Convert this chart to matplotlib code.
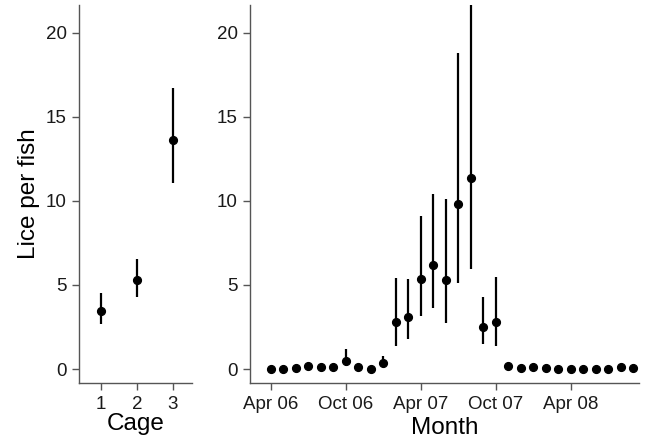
import numpy as np
import matplotlib.pyplot as plt

plt.rcParams['font.family'] = ['Liberation Sans', 'DejaVu Sans']

# cage means with error bar limits
cage = [1, 2, 3]
cage_mean = [3.48, 5.29, 13.6]
cage_lo = [2.67, 4.28, 11.05]
cage_hi = [4.51, 6.53, 16.73]

# monthly means, Apr 06 .. Sep 08
month_labels = ['Apr 06', 'Oct 06', 'Apr 07', 'Oct 07', 'Apr 08']
month_mean = [0.0, 0.0, 0.05, 0.2, 0.1, 0.15, 0.5, 0.1, 0.03, 0.38,
              2.77, 3.09, 5.37, 6.18, 5.27, 9.82, 11.35, 2.53, 2.77, 0.18,
              0.06, 0.1, 0.08, 0.0, 0.0, 0.0, 0.0, 0.0, 0.15, 0.04]
month_lo = [0.0, 0.0, 0.05, 0.2, 0.1, 0.15, 0.2, 0.1, 0.03, 0.3,
            1.39, 1.78, 3.17, 3.64, 2.75, 5.13, 5.96, 1.5, 1.39, 0.18,
            0.06, 0.1, 0.08, 0.0, 0.0, 0.0, 0.0, 0.0, 0.15, 0.04]
month_hi = [0.0, 0.0, 0.05, 0.2, 0.1, 0.15, 1.2, 0.1, 0.03, 0.8,
            5.4, 5.35, 9.09, 10.38, 10.12, 18.77, 22.5, 4.3, 5.5, 0.18,
            0.06, 0.1, 0.08, 0.0, 0.0, 0.0, 0.0, 0.0, 0.15, 0.04]

fig = plt.figure(figsize=(6.45, 4.43), dpi=100)
ax1 = fig.add_axes([0.1225, 0.1354, 0.175, 0.853])
ax2 = fig.add_axes([0.3876, 0.1354, 0.603, 0.853])

spine_col = '#555555'

def style(ax):
    for s in ['top', 'right']:
        ax.spines[s].set_visible(False)
    for s in ['left', 'bottom']:
        ax.spines[s].set_color(spine_col)
        ax.spines[s].set_linewidth(1.0)
    ax.tick_params(direction='out', length=5, width=1.0, color=spine_col,
                   labelsize=13.5, labelcolor='#1a1a1a', pad=4)
    ax.set_ylim(-0.83, 21.64)
    ax.set_yticks([0, 5, 10, 15, 20])

def draw(ax, x, m, lo, hi):
    m = np.array(m)
    yerr = [m - np.array(lo), np.array(hi) - m]
    ax.errorbar(x, m, yerr=yerr, fmt='o', color='black', ms=5.6,
                elinewidth=1.6, capsize=0)

style(ax1)
draw(ax1, cage, cage_mean, cage_lo, cage_hi)
ax1.set_xlim(0.39, 3.53)
ax1.set_xticks(cage)
ax1.set_xlabel('Cage', fontsize=17.5, labelpad=0)
ax1.set_ylabel('Lice per fish', fontsize=17.5, labelpad=4)

style(ax2)
x = np.arange(len(month_mean))
draw(ax2, x, month_mean, month_lo, month_hi)
ax2.set_xlim(-1.66, 29.46)
ax2.set_xticks(np.arange(0, 30, 6))
ax2.set_xticklabels(month_labels)
ax2.set_xlabel('Month', fontsize=17.5, labelpad=3)

fig.savefig('out.png', dpi=100)
